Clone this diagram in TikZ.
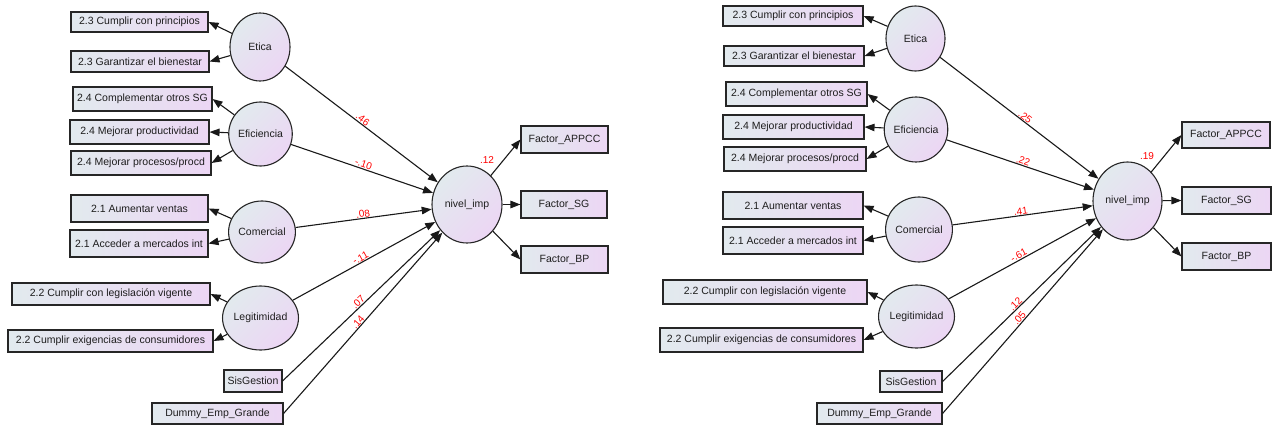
\documentclass[tikz,border=0pt]{standalone}
\usepackage{fontspec}
\setmainfont{Liberation Sans}
\usetikzlibrary{arrows.meta,shapes.geometric}
\definecolor{fillL}{RGB}{226,234,238}
\definecolor{fillR}{RGB}{236,214,244}
\definecolor{txt}{RGB}{30,30,30}
\definecolor{coef}{RGB}{255,0,0}
\tikzset{
  obs/.style={draw=black!85, line width=1.1pt, left color=fillL, right color=fillR, inner sep=0pt, text=txt, font=\fontsize{10.5}{12}\selectfont},
  lat/.style={ellipse, draw=black!85, line width=1.1pt, shading=axis, left color=fillL, right color=fillR, shading angle=45, inner sep=0pt, text=txt, font=\fontsize{10.5}{12}\selectfont},
  arr/.style={draw=black!90, line width=1.1pt, -{Triangle[length=10pt,width=7.5pt]}},
  lbl/.style={text=coef, inner sep=0.5pt, font=\fontsize{10}{11}\selectfont}
}
\begin{document}
\begin{tikzpicture}[x=1pt,y=-1pt]
\useasboundingbox (0,0) rectangle (1274,425);
% ================= LEFT MODEL =================
\node[obs, minimum width=137, minimum height=20] (La1) at (139.5,22) {2.3 Cumplir con principios};
\node[obs, minimum width=138, minimum height=21] (La2) at (140,61.5) {2.3 Garantizar el bienestar};
\node[obs, minimum width=139, minimum height=24] (La3) at (142.5,99) {2.4 Complementar otros SG};
\node[obs, minimum width=139, minimum height=24] (La4) at (139.5,132) {2.4 Mejorar productividad};
\node[obs, minimum width=140, minimum height=24] (La5) at (141,163) {2.4 Mejorar procesos/procd};
\node[obs, minimum width=137, minimum height=27] (La6) at (139.5,208.5) {2.1 Aumentar ventas};
\node[obs, minimum width=138, minimum height=27] (La7) at (139,243.5) {2.1 Acceder a mercados int};
\node[obs, minimum width=198, minimum height=22] (La8) at (111,294) {2.2 Cumplir con legislación vigente};
\node[obs, minimum width=205, minimum height=22] (La9) at (110.5,341) {2.2 Cumplir exigencias de consumidores};
\node[obs, minimum width=58, minimum height=22] (Lsis) at (253,381) {SisGestion};
\node[obs, minimum width=131, minimum height=21] (Ldum) at (217.5,413.5) {Dummy\_Emp\_Grande};
\node[obs, minimum width=87, minimum height=27] (Lfa) at (564.5,139.5) {Factor\_APPCC};
\node[obs, minimum width=86, minimum height=27] (Lfs) at (564,204.5) {Factor\_SG};
\node[obs, minimum width=87, minimum height=27] (Lfb) at (564.5,259.5) {Factor\_BP};

\node[lat, minimum width=60, minimum height=68] (Leti) at (260,47) {Etica};
\node[lat, minimum width=59, minimum height=64] (Lefi) at (260.5,134) {Eficiencia};
\node[lat, minimum width=58, minimum height=62] (Lcom) at (262,232) {Comercial};
\node[lat, minimum width=58, minimum height=64] (Lleg) at (260.5,318) {Legitimidad};
\node[lat, minimum width=70, minimum height=77] (Lniv) at (467,204.5) {nivel\_imp};
\node[lbl] (Lr2) at (487,160) {.12};

\draw[arr] (Leti) -- (La1.east);
\draw[arr] (Leti) -- (La2.east);
\draw[arr] (Lefi) -- (La3.east);
\draw[arr] (Lefi) -- (La4.east);
\draw[arr] (Lefi) -- (La5.east);
\draw[arr] (Lcom) -- (La6.east);
\draw[arr] (Lcom) -- (La7.east);
\draw[arr] (Lleg) -- (La8.east);
\draw[arr] (Lleg) -- (La9.east);

\draw[arr] (Leti) -- node[lbl, pos=0.49, sloped, above] {.46} (Lniv);
\draw[arr] (Lefi) -- node[lbl, pos=0.5, sloped, above] {-.10} (Lniv);
\draw[arr] (Lcom) -- node[lbl, pos=0.5, sloped, above] {.08} (Lniv);
\draw[arr] (Lleg) -- node[lbl, pos=0.49, sloped, above] {-.11} (Lniv);
\draw[arr] (Lsis.east) -- node[lbl, pos=0.5, sloped, above] {.07} (Lniv);
\draw[arr] (Ldum.east) -- node[lbl, pos=0.49, sloped, above] {.14} (Lniv);

\draw[arr] (Lniv) -- (Lfa.west);
\draw[arr] (Lniv) -- (Lfs.west);
\draw[arr] (Lniv) -- (Lfb.west);

% ================= RIGHT MODEL =================
\node[obs, minimum width=140, minimum height=20] (Ra1) at (793,16) {2.3 Cumplir con principios};
\node[obs, minimum width=140, minimum height=20] (Ra2) at (794,56) {2.3 Garantizar el bienestar};
\node[obs, minimum width=141, minimum height=24] (Ra3) at (796.5,94) {2.4 Complementar otros SG};
\node[obs, minimum width=141, minimum height=24] (Ra4) at (793.5,127) {2.4 Mejorar productividad};
\node[obs, minimum width=142, minimum height=24] (Ra5) at (795,159) {2.4 Mejorar procesos/procd};
\node[obs, minimum width=140, minimum height=27] (Ra6) at (793,205.5) {2.1 Aumentar ventas};
\node[obs, minimum width=140, minimum height=27] (Ra7) at (793,240.5) {2.1 Acceder a mercados int};
\node[obs, minimum width=204, minimum height=24] (Ra8) at (765,292) {2.2 Cumplir con legislación vigente};
\node[obs, minimum width=203, minimum height=24] (Ra9) at (761.5,340) {2.2 Cumplir exigencias de consumidores};
\node[obs, minimum width=62, minimum height=21] (Rsis) at (911,381.5) {SisGestion};
\node[obs, minimum width=125, minimum height=21] (Rdum) at (879.5,413.5) {Dummy\_Emp\_Grande};
\node[obs, minimum width=88, minimum height=26] (Rfa) at (1226,135) {Factor\_APPCC};
\node[obs, minimum width=89, minimum height=27] (Rfs) at (1226.5,200.5) {Factor\_SG};
\node[obs, minimum width=89, minimum height=27] (Rfb) at (1226.5,256.5) {Factor\_BP};

\node[lat, minimum width=59, minimum height=65] (Reti) at (915.5,38.5) {Etica};
\node[lat, minimum width=60, minimum height=65] (Refi) at (916,129.5) {Eficiencia};
\node[lat, minimum width=58, minimum height=65] (Rcom) at (919,229.5) {Comercial};
\node[lat, minimum width=59, minimum height=63] (Rleg) at (916.5,316.5) {Legitimidad};
\node[lat, minimum width=69, minimum height=78] (Rniv) at (1127.5,201) {nivel\_imp};
\node[lbl] (Rr2) at (1147,156) {.19};

\draw[arr] (Reti) -- (Ra1.east);
\draw[arr] (Reti) -- (Ra2.east);
\draw[arr] (Refi) -- (Ra3.east);
\draw[arr] (Refi) -- (Ra4.east);
\draw[arr] (Refi) -- (Ra5.east);
\draw[arr] (Rcom) -- (Ra6.east);
\draw[arr] (Rcom) -- (Ra7.east);
\draw[arr] (Rleg) -- (Ra8.east);
\draw[arr] (Rleg) -- (Ra9.east);

\draw[arr] (Reti) -- node[lbl, pos=0.52, sloped, above] {.25} (Rniv);
\draw[arr] (Refi) -- node[lbl, pos=0.51, sloped, above] {.22} (Rniv);
\draw[arr] (Rcom) -- node[lbl, pos=0.49, sloped, above] {.41} (Rniv);
\draw[arr] (Rleg) -- node[lbl, pos=0.49, sloped, above] {-.61} (Rniv);
\draw[arr] (Rsis.east) -- node[lbl, pos=0.48, sloped, above] {.12} (Rniv);
\draw[arr] (Rdum.east) -- node[lbl, pos=0.5, sloped, above] {.05} (Rniv);

\draw[arr] (Rniv) -- (Rfa.west);
\draw[arr] (Rniv) -- (Rfs.west);
\draw[arr] (Rniv) -- (Rfb.west);
\end{tikzpicture}
\end{document}
